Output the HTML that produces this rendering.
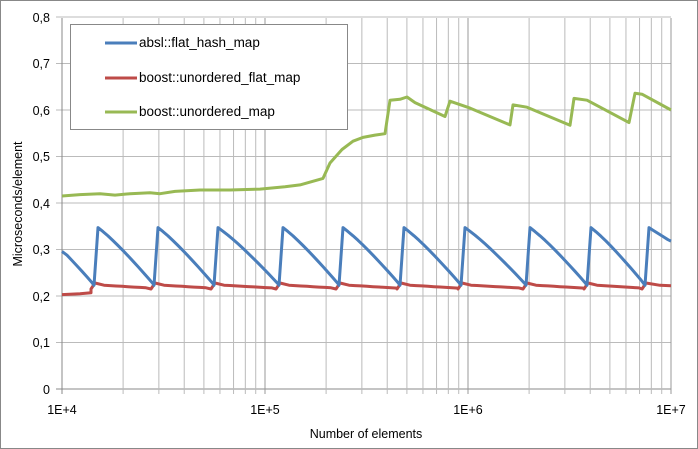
<!DOCTYPE html>
<html><head><meta charset="utf-8"><style>
html,body{margin:0;padding:0;background:#fff}
svg{display:block;font-family:"Liberation Sans",sans-serif}
</style></head><body>
<svg id="c" width="698" height="449" viewBox="0 0 698 449" xmlns="http://www.w3.org/2000/svg">
<rect x="0.5" y="0.5" width="697" height="448" fill="#fff" stroke="#888"/>
<g id="grid"></g>
<g font-size="12.5" fill="#000" text-anchor="end">
<text x="50" y="22">0,8</text><text x="50" y="68">0,7</text><text x="50" y="115">0,6</text>
<text x="50" y="161">0,5</text><text x="50" y="208">0,4</text><text x="50" y="254">0,3</text>
<text x="50" y="301">0,2</text><text x="50" y="347">0,1</text><text x="50" y="394">0</text>
</g>
<g font-size="12.5" fill="#000" text-anchor="middle">
<text x="62" y="414">1E+4</text><text x="265" y="414">1E+5</text><text x="468" y="414">1E+6</text><text x="671" y="414">1E+7</text>
<text x="366" y="438">Number of elements</text>
<text transform="translate(22,204) rotate(-90)">Microseconds/element</text>
</g>
<g id="series" fill="none" stroke-width="3" stroke-linejoin="round"></g>
<rect x="70.5" y="24.5" width="277" height="105" fill="#fff" stroke="#888"/>
<g stroke-width="3"><line x1="105" y1="43" x2="137" y2="43" stroke="#4a7ebb"/>
<line x1="105" y1="78" x2="137" y2="78" stroke="#be4b48"/>
<line x1="105" y1="112" x2="137" y2="112" stroke="#98b954"/></g>
<g font-size="13.5" fill="#000"><text x="139" y="47">absl::flat_hash_map</text>
<text x="139" y="82">boost::unordered_flat_map</text><text x="139" y="116">boost::unordered_map</text></g>
</svg>
<script>
var X0=62,D=203,Y0=389,S=465;
function Y(v){return Y0-v*S;}
var g=document.getElementById('grid'),h='';
for(var i=0;i<=8;i++){var y=Y(i/10);h+='<line x1="56" x2="671" y1="'+y+'" y2="'+y+'" stroke="'+(i==0?'#888':'#bbb')+'"/>';}
for(var d=0;d<3;d++)for(var k=1;k<=10;k++){var x=X0+D*(d+Math.log10(k));if(k==10&&d<2)continue;
h+='<line x1="'+x+'" x2="'+x+'" y1="18" y2="394" stroke="'+(k==1||k==10?'#999':'#bbb')+'"/>';}
h+='<line x1="62" x2="62" y1="18" y2="394" stroke="#888"/>';
g.innerHTML=h;
var peaks=[98,158,218,283,343,404,465,530,591,649];
var b=[],r=[];
b.push([62,0.296]);r.push([62,0.203]);r.push([80,0.205]);r.push([91,0.207]);
for(var p=0;p<peaks.length;p++){var xp=peaks[p];
 var start=p==0?62:peaks[p-1];
 for(var x=start+5;x<xp-4;x+=5){var t=(x-(p==0?37:start))/(xp-4-(p==0?37:start));b.push([x,0.346-0.122*Math.pow(t,1.15)]);}
 b.push([xp-4,0.223]);b.push([xp,0.347]);
 if(p>0){for(var x=start+6;x<xp-6;x+=6){var t=(x-start)/(xp-start);r.push([x,0.224-0.008*t]);}}
 r.push([xp-7,0.215]);r.push([xp-3,0.228]);
}
for(var x=653;x<=671;x+=5){b.push([x,0.347-0.03*(x-649)/22]);}
b.push([671,0.318]);r.push([660,0.223]);r.push([671,0.222]);
var gr=[[62,0.415],[80,0.418],[100,0.42],[115,0.417],[130,0.42],[150,0.422],[160,0.42],[175,0.425],[200,0.428],[230,0.428],[260,0.43],[285,0.435],[300,0.439],[323,0.453],[330,0.486],[342,0.515],[353,0.533],[363,0.541],[375,0.546],[385,0.549],[390,0.621],[400,0.623],[407,0.628],[415,0.616],[445,0.586],[450,0.619],[470,0.604],[510,0.568],[513,0.611],[527,0.606],[570,0.567],[574,0.625],[587,0.621],[629,0.573],[635,0.636],[642,0.634],[671,0.6]];
function path(a,c){return '<polyline stroke="'+c+'" points="'+a.map(function(q){return q[0]+','+Y(q[1]).toFixed(1)}).join(' ')+'"/>';}
document.getElementById('series').innerHTML=path(gr,'#98b954')+path(r,'#be4b48')+path(b,'#4a7ebb');
</script>
</body></html>
